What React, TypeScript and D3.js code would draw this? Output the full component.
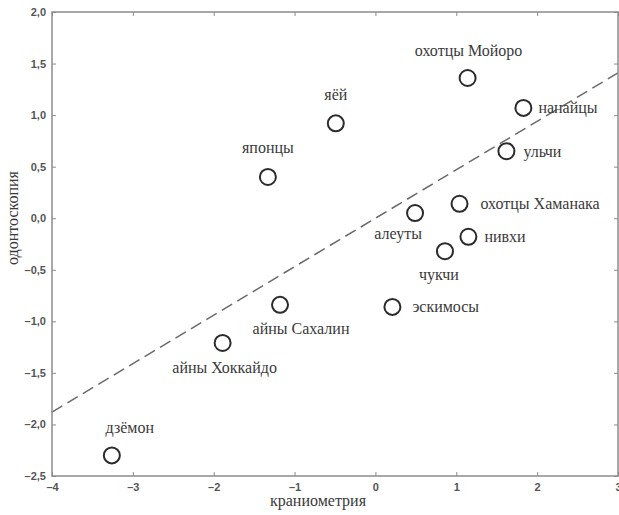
import { axisBottom, axisLeft, axisTop, axisRight, formatLocale, scaleLinear, select } from "d3";
import { useEffect, useRef } from "react";

// groups and their coordinates (craniometry vs odontoscopy)
const groups = [
  "дзёмон",
  "айны Хоккайдо",
  "айны Сахалин",
  "японцы",
  "яёй",
  "охотцы Мойоро",
  "нанайцы",
  "ульчи",
  "охотцы Хаманака",
  "алеуты",
  "нивхи",
  "чукчи",
  "эскимосы",
];
const cranio = [-3.26, -1.89, -1.18, -1.33, -0.49, 1.14, 1.83, 1.62, 1.04, 0.49, 1.15, 0.86, 0.21];
const odonto = [-2.3, -1.21, -0.84, 0.4, 0.92, 1.36, 1.07, 0.65, 0.14, 0.05, -0.18, -0.32, -0.86];

// fitted line end points
const fitX = [-4, 3];
const fitY = [-1.88, 1.41];

const xTicks = [-4, -3, -2, -1, 0, 1, 2, 3];
const yTicks = [2, 1.5, 1, 0.5, 0, -0.5, -1, -1.5, -2, -2.5];

// where each label sits relative to its circle
const labelPos: Record<string, { dx: number; dy: number; anchor: string }> = {
  "дзёмон": { dx: 18, dy: -22, anchor: "middle" },
  "айны Хоккайдо": { dx: 2, dy: 30, anchor: "middle" },
  "айны Сахалин": { dx: 21, dy: 29, anchor: "middle" },
  "японцы": { dx: 0, dy: -24, anchor: "middle" },
  "яёй": { dx: 0, dy: -23, anchor: "middle" },
  "охотцы Мойоро": { dx: 1, dy: -22, anchor: "middle" },
  "нанайцы": { dx: 15, dy: 5, anchor: "start" },
  "ульчи": { dx: 17, dy: 6, anchor: "start" },
  "охотцы Хаманака": { dx: 21, dy: 5, anchor: "start" },
  "алеуты": { dx: -17, dy: 26, anchor: "middle" },
  "нивхи": { dx: 16, dy: 5, anchor: "start" },
  "чукчи": { dx: -6, dy: 29, anchor: "middle" },
  "эскимосы": { dx: 20, dy: 5, anchor: "start" },
};

const locale = formatLocale({
  decimal: ",",
  thousands: " ",
  grouping: [3],
  currency: ["", ""],
  minus: "\u2013",
});
const fmtY = locale.format(".1f");
const fmtX = locale.format("d");

const W = 619;
const H = 515;
const left = 52;
const right = 618;
const top = 12;
const bottom = 476;

const axisColor = "#8c8c8c";
const tickTextColor = "#555";
const serif = "'Liberation Serif', 'Times New Roman', serif";

const App = () => {
  const ref = useRef<SVGGElement>(null);

  const x = scaleLinear().domain([-4, 3]).range([left, right]);
  const y = scaleLinear().domain([-2.5, 2]).range([bottom, top]);

  useEffect(() => {
    if (!ref.current) return;
    const g = select(ref.current);
    g.selectAll("*").remove();

    const style = (sel: any) => {
      sel.select(".domain").remove();
      sel.selectAll(".tick line").attr("stroke", axisColor).attr("stroke-width", 1);
      sel
        .selectAll(".tick text")
        .attr("fill", tickTextColor)
        .style("font-family", "'Liberation Sans', Arial, sans-serif")
        .style("font-size", "11px")
        .style("font-weight", "bold");
    };

    g.append("g")
      .attr("transform", `translate(0,${bottom})`)
      .call(axisBottom(x).tickValues(xTicks).tickFormat((d: any) => fmtX(d)).tickSizeInner(-4).tickPadding(7))
      .call(style);
    g.append("g")
      .attr("transform", `translate(${left},0)`)
      .call(axisLeft(y).tickValues(yTicks).tickFormat((d: any) => fmtY(d)).tickSizeInner(-4).tickPadding(6))
      .call(style);
    g.append("g")
      .attr("transform", `translate(0,${top})`)
      .call(axisTop(x).tickValues(xTicks).tickFormat(() => "").tickSizeInner(-4))
      .call(style);
    g.append("g")
      .attr("transform", `translate(${right},0)`)
      .call(axisRight(y).tickValues(yTicks).tickFormat(() => "").tickSizeInner(-4))
      .call(style);
  }, []);

  return (
    <svg
      width={W}
      height={H}
      style={{ position: "absolute", left: 0, top: 0, background: "#fff" }}
    >
      <rect x={0} y={0} width={W} height={H} fill="#fff" />
      <line
        x1={x(fitX[0])}
        y1={y(fitY[0])}
        x2={x(fitX[1])}
        y2={y(fitY[1])}
        stroke="#6a6a6a"
        strokeWidth={1.5}
        strokeDasharray="12,6"
      />
      <g ref={ref} />
      <rect
        x={left}
        y={top}
        width={right - left}
        height={bottom - top}
        fill="none"
        stroke={axisColor}
        strokeWidth={1.5}
      />
      {groups.map((name, i) => {
        const cx = x(cranio[i]);
        const cy = y(odonto[i]);
        const p = labelPos[name];
        return (
          <g key={name}>
            <circle cx={cx} cy={cy} r={8} fill="#fff" stroke="#2b2b2b" strokeWidth={2} />
            <text
              x={cx + p.dx}
              y={cy + p.dy}
              textAnchor={p.anchor}
              fill="#3a3a3a"
              style={{ fontFamily: serif, fontSize: "16px" }}
            >
              {name}
            </text>
          </g>
        );
      })}
      <text
        x={318}
        y={506}
        textAnchor="middle"
        fill="#3a3a3a"
        style={{ fontFamily: serif, fontSize: "16px" }}
      >
        краниометрия
      </text>
      <text
        transform={`translate(18,218) rotate(-90)`}
        textAnchor="middle"
        fill="#3a3a3a"
        style={{ fontFamily: serif, fontSize: "16px" }}
      >
        одонтоскопия
      </text>
    </svg>
  );
};

export default App;
